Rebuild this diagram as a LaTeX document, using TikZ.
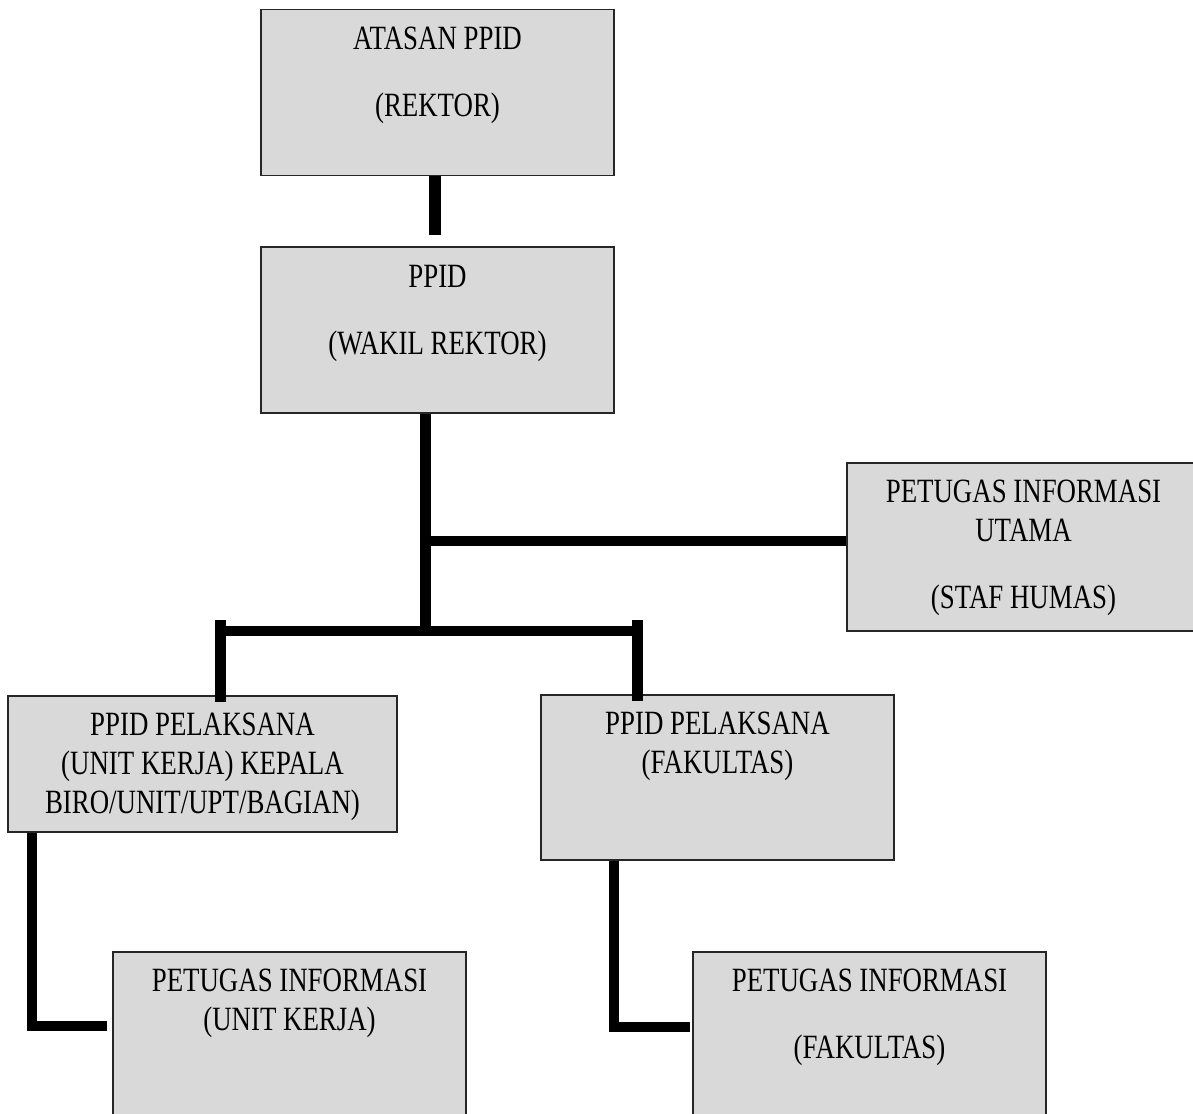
\documentclass[tikz,border=0pt]{standalone}
\usepackage{fontspec}
\setmainfont{Liberation Serif}[FakeStretch=0.79]
\usetikzlibrary{calc}
\definecolor{boxgray}{RGB}{217,217,217}
\tikzset{box/.style={rectangle,draw=black!85,line width=1.2pt,fill=boxgray,inner sep=0pt,minimum width=353pt,minimum height=166pt},
  lbl/.style={anchor=north,inner sep=0pt,align=center,font=\fontsize{34}{39}\selectfont},
  link/.style={line width=10.5pt,line join=miter}}

\begin{document}
\begin{tikzpicture}[x=1pt,y=-1pt]
            \useasboundingbox (0,0) rectangle (1193,1113);

            \node[box] (atasan) at (437.5,92.5) {};
            \node[box] (ppid) at (437.5,330) {};
            \node[box,minimum height=168pt] (utama) at (1023.5,547) {};
            \node[box,minimum width=389pt,minimum height=136pt] (pelUnit) at (202.5,764) {};
            \node[box,minimum height=165pt] (pelFak) at (717.5,777.5) {};
            \node[box] (petUnit) at (289.5,1035) {};
            \node[box] (petFak) at (869.5,1035) {};

            \coordinate (stub) at (435,235);
            \coordinate (split) at (425.5,631);
            \coordinate (tee) at (425.5,541);
            \coordinate (barL) at (215,631);
            \coordinate (barR) at (643,631);
            \coordinate (dropL) at (220.5,620);
            \coordinate (dropR) at (637.5,620);
            \coordinate (elbowU) at (32,1026);
            \coordinate (elbowF) at (614,1027);

            \draw[link, line width=12pt] (atasan.south -| stub) -- (stub);
            \draw[link] (ppid.south -| split) -- (split);
            \draw[link] (tee) -- (tee -| utama.west);
            \draw[link] (barL) -- (barR);
            \foreach \from/\to in {dropL/pelUnit, dropR/pelFak}
              \draw[link] (\from) -- ([yshift=-7pt]\from |- \to.north);
            \draw[link] (pelUnit.south -| elbowU) -- (elbowU) -- ([xshift=-5pt]elbowU -| petUnit.west);
            \draw[link] (pelFak.south -| elbowF) -- (elbowF) -- ([xshift=-2pt]elbowF -| petFak.west);

            \node[lbl] (tAtasan) at ([yshift=-17.5pt]atasan.north) {ATASAN PPID\\[28pt](REKTOR)};
            \node[lbl] (tPpid) at ([yshift=-18.5pt]ppid.north) {PPID\\[28pt](WAKIL REKTOR)};
            \node[lbl] (tUtama) at ([yshift=-17.5pt]utama.north) {PETUGAS INFORMASI\\UTAMA\\[28pt](STAF HUMAS)};
            \node[lbl] (tPelUnit) at ([yshift=-17.5pt]pelUnit.north) {PPID PELAKSANA\\(UNIT KERJA) KEPALA\\BIRO/UNIT/UPT/BAGIAN)};
            \node[lbl] (tPelFak) at ([yshift=-17.5pt]pelFak.north) {PPID PELAKSANA\\(FAKULTAS)};
            \node[lbl] (tPetUnit) at ([yshift=-17.5pt]petUnit.north) {PETUGAS INFORMASI\\(UNIT KERJA)};
            \node[lbl] (tPetFak) at ([yshift=-17.5pt]petFak.north) {PETUGAS INFORMASI\\[28pt](FAKULTAS)};
        \end{tikzpicture}
\end{document}
